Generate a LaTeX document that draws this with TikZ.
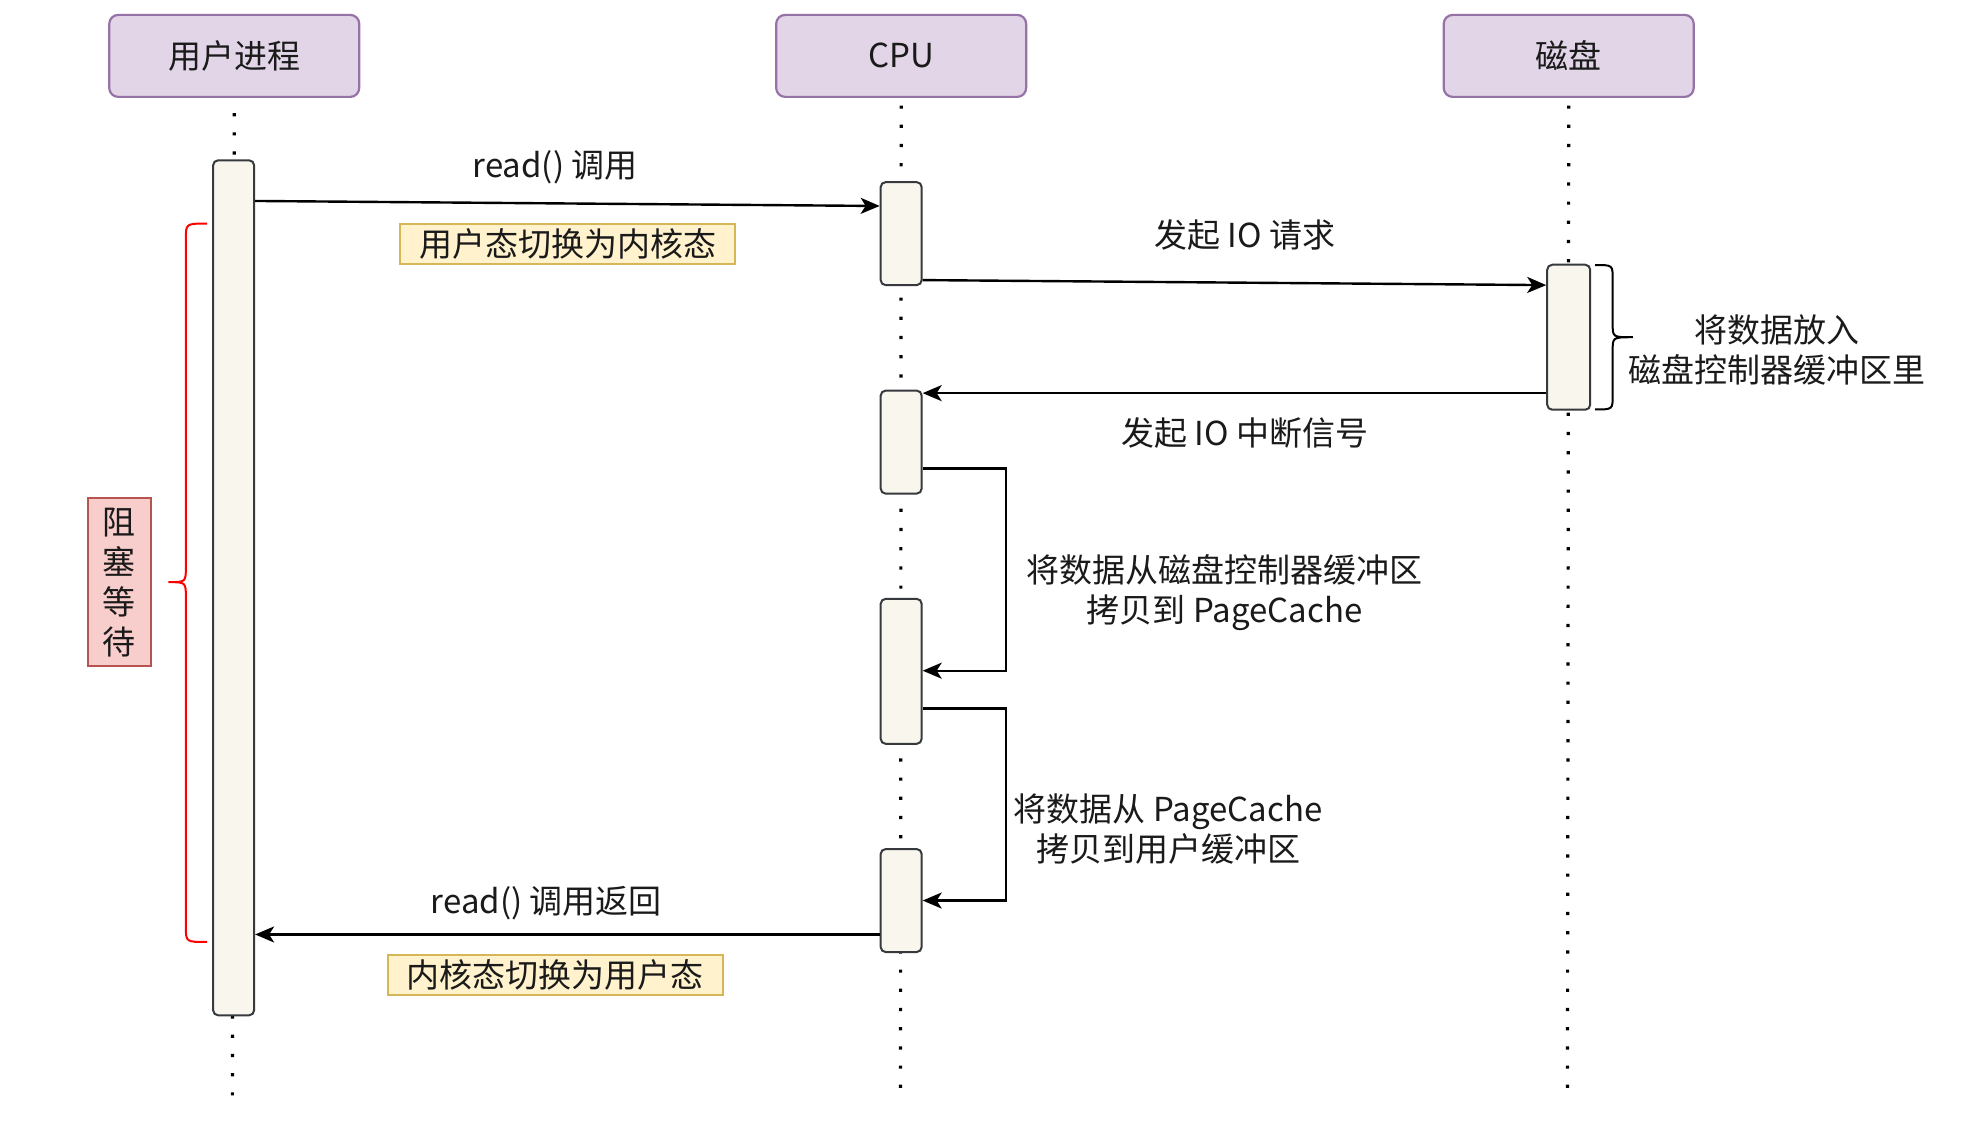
\documentclass[tikz,border=0pt]{standalone}
\usepackage{fontspec}
\setmainfont{Noto Sans CJK SC}
\usetikzlibrary{arrows.meta,calc}
\definecolor{hdrfill}{HTML}{E1D5E7}
\definecolor{hdrdraw}{HTML}{9673A6}
\definecolor{actfill}{HTML}{F9F7ED}
\definecolor{actdraw}{HTML}{36393D}
\definecolor{notefill}{HTML}{FFF2CC}
\definecolor{notedraw}{HTML}{D6B656}
\definecolor{redfill}{HTML}{F8CECC}
\definecolor{reddraw}{HTML}{B85450}
\definecolor{txt}{HTML}{1A1A1A}
\begin{document}
\begin{tikzpicture}[x=1.256pt,y=-1.256pt,
  every node/.style={font=\fontsize{33pt}{40pt}\selectfont, text=txt},
  hdr/.style={draw=hdrdraw, fill=hdrfill, line width=2.2pt, rounded corners=9pt,
    minimum width=250pt, minimum height=82pt, inner sep=0pt},
  act/.style={draw=actdraw, fill=actfill, line width=2pt, rounded corners=5pt,
    minimum width=41pt, inner sep=0pt},
  life/.style={line width=3.2pt, dash pattern=on 3.2pt off 16pt, black},
  msg/.style={line width=2.4pt, black, -{Stealth[length=19pt,width=16pt,inset=5pt]}},
  lbl/.style={align=center, inner sep=0pt},
  note/.style={draw=notedraw, fill=notefill, line width=1.8pt, minimum height=40pt,
    inner xsep=19pt, inner ysep=0pt},
  brace/.style={line width=2pt, black},
]
\useasboundingbox (0,0) rectangle (1567.7,898.9);

% headers
\node[hdr] (hu) at (186.5,44.5) {用户进程};
\node[hdr] (hc) at (717.5,44.5) {CPU};
\node[hdr] (hd) at (1249,44.5) {磁盘};

% lifelines
\coordinate (eu) at (185,878);
\coordinate (ec) at (717,868);
\coordinate (ed) at (1248,868);
\draw[life] ($(hu.south)+(0,12)$) -- (eu);
\draw[life] ($(hc.south)+(0,6)$) -- (ec);
\draw[life] ($(hd.south)+(0,6)$) -- (ed);

% activations
\node[act, minimum height=855pt] (au) at (186,468) {};
\node[act, minimum height=103pt] (c1) at (717.5,186) {};
\node[act, minimum width=43pt, minimum height=145pt] (dk) at (1249,268.5) {};
\node[act, minimum height=103pt] (c2) at (717.5,352) {};
\node[act, minimum height=145pt] (c3) at (717.5,534.5) {};
\node[act, minimum height=103pt] (c4) at (717.5,717) {};

% message 1
\draw[msg] (au.east |- 0,160) -- (c1.west |- 0,164);
\node[lbl] (l1) at (442,133) {read() 调用};
\node[note] (n1) at (452,194) {用户态切换为内核态};

% message 2
\draw[msg] (c1.east |- 0,223) -- (dk.west |- 0,227);
\node[lbl] (l2) at (991,187) {发起 IO 请求};

% disk brace
\draw[brace] (1270,211) .. controls (1284,211) .. (1284,222) -- (1284,258)
  .. controls (1284,268.5) .. (1300,268.5) .. controls (1284,268.5) .. (1284,279)
  -- (1284,315) .. controls (1284,326) .. (1270,326);
\node[lbl] (l3) at (1415,278.5) {将数据放入\\磁盘控制器缓冲区里};

% message 3
\draw[msg] (dk.west |- 0,313) -- (c2.east |- 0,313);
\node[lbl] (l4) at (991,345) {发起 IO 中断信号};

% self loop 1
\draw[msg] (c2.east |- 0,373) -- (801,373) -- (801,534) -- (c3.east |- 0,534);
\node[lbl] (l5) at (975,471.5) {将数据从磁盘控制器缓冲区\\拷贝到 PageCache};

% self loop 2
\draw[msg] (c3.east |- 0,564) -- (801,564) -- (801,717) -- (c4.east |- 0,717);
\node[lbl] (l6) at (930,660) {将数据从 PageCache\\拷贝到用户缓冲区};

% message return
\draw[msg] (c4.west |- 0,744) -- (au.east |- 0,744);
\node[lbl] (l7) at (435,719) {read() 调用返回};
\node[note] (n2) at (442,776.5) {内核态切换为用户态};

% red brace
\draw[brace, red] (165,178) .. controls (148,178) .. (148,190) -- (148,451)
  .. controls (148,463.5) .. (134,463.5) .. controls (148,463.5) .. (148,476)
  -- (148,738) .. controls (148,750) .. (165,750);
\node[draw=reddraw, fill=redfill, line width=1.8pt, minimum width=63pt, minimum height=168pt,
  inner sep=0pt, align=center] (blk) at (95,463.5) {阻\\塞\\等\\待};
\end{tikzpicture}
\end{document}
